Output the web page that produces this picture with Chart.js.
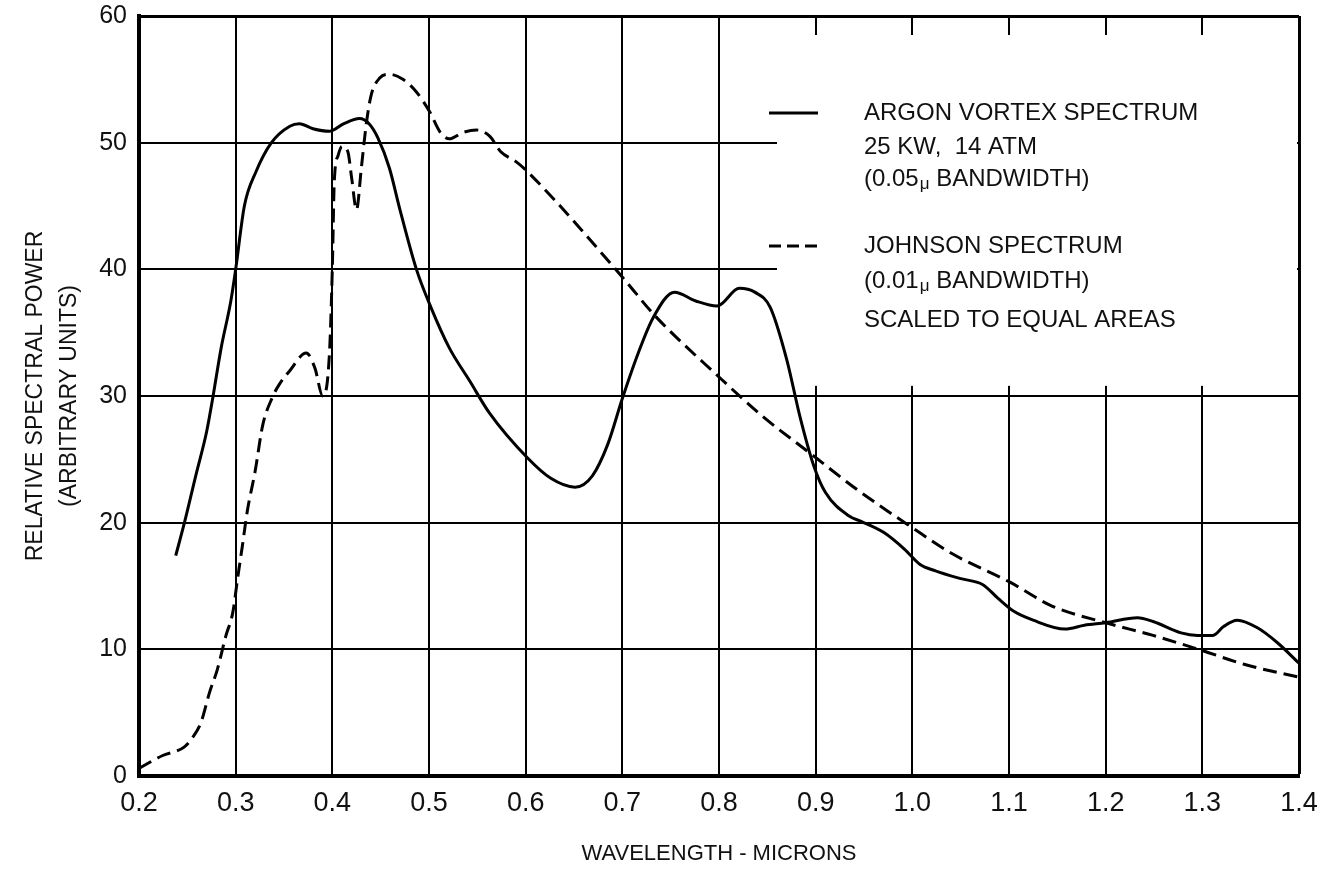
<!DOCTYPE html>
<html lang="en">
<head>
    <meta charset="UTF-8">
    <title>Argon Vortex vs Johnson Spectrum</title>
    <script src="https://cdn.jsdelivr.net/npm/chart.js@4/dist/chart.umd.min.js"></script>
    <style>
        html, body { margin: 0; padding: 0; background: #fff; }
        canvas { display: block; }
    </style>
</head>
<body>
    <canvas id="spectrumChart" width="1323" height="874"></canvas>
    <script>
        // Argon vortex spectrum (solid), 0.05 micron bandwidth
        const argonWl = [0.238, 0.247, 0.259, 0.270, 0.276, 0.285, 0.295, 0.300, 0.309, 0.321,
            0.337, 0.356, 0.366, 0.380, 0.397, 0.412, 0.428, 0.438, 0.447, 0.459,
            0.470, 0.487, 0.502, 0.521, 0.542, 0.563, 0.602, 0.626, 0.651,
            0.669, 0.685, 0.700, 0.716, 0.732, 0.754, 0.776, 0.798, 0.821, 0.837,
            0.853, 0.870, 0.884, 0.898, 0.910, 0.935, 0.947, 0.971, 0.992, 1.008,
            1.024, 1.049, 1.073, 1.089, 1.105, 1.125, 1.158, 1.178, 1.200, 1.233,
            1.249, 1.278, 1.295, 1.311, 1.322, 1.336, 1.357, 1.378, 1.400];
        const argonPower = [17.4, 20.0, 23.8, 27.2, 29.7, 33.8, 37.5, 40.0, 45.0, 47.7,
            50.0, 51.3, 51.5, 51.1, 50.9, 51.5, 51.9, 51.5, 50.4, 48.0,
            44.7, 40.0, 37.0, 33.8, 31.2, 28.6, 25.1, 23.5, 22.8,
            23.7, 26.2, 29.8, 33.3, 36.2, 38.2, 37.5, 37.1, 38.5, 38.2,
            37.0, 32.9, 28.3, 24.5, 22.4, 20.5, 20.1, 19.2, 17.9, 16.7,
            16.2, 15.6, 15.1, 14.0, 13.0, 12.3, 11.6, 11.9, 12.1, 12.5,
            12.2, 11.3, 11.1, 11.1, 11.8, 12.3, 11.7, 10.5, 8.9];

        // Johnson spectrum (dashed), 0.01 micron bandwidth
        const johnsonWl = [0.200, 0.224, 0.247, 0.255, 0.264, 0.273, 0.281, 0.290, 0.297, 0.302,
            0.307, 0.312, 0.320, 0.328, 0.338, 0.345, 0.356, 0.373, 0.382, 0.390,
            0.397, 0.400, 0.402, 0.406, 0.410, 0.416, 0.420, 0.425, 0.430, 0.435,
            0.440, 0.449, 0.459, 0.473, 0.487, 0.501, 0.511, 0.521, 0.535, 0.549,
            0.563, 0.574, 0.590, 0.602, 0.701, 0.733, 0.800, 0.845, 0.894, 0.943,
            1.000, 1.040, 1.101, 1.145, 1.200, 1.249, 1.300, 1.344, 1.400];
        const johnsonPower = [0.6, 1.6, 2.3, 3.0, 4.2, 6.6, 8.4, 11.1, 12.9, 15.6,
            18.2, 20.9, 24.0, 27.7, 29.9, 30.9, 32.0, 33.4, 32.2, 30.0,
            33.3, 40.1, 46.9, 49.0, 49.7, 49.3, 47.2, 44.7, 48.0, 51.4,
            53.7, 55.1, 55.4, 55.0, 54.0, 52.4, 50.9, 50.3, 50.8, 51.0,
            50.5, 49.3, 48.5, 47.7, 39.3, 36.4, 31.5, 28.4, 25.5, 22.6,
            19.6, 17.6, 15.3, 13.4, 12.1, 11.1, 9.9, 8.8, 7.8];

        const xMin = 0.2, xMax = 1.4, xStep = 0.1;
        const yMin = 0, yMax = 60, yStep = 10;

        const toPoints = (xs, ys) => xs.map((x, i) => ({ x: x, y: ys[i] }));

        const FONT = "'Liberation Sans', Arial, sans-serif";
        const INK = '#111';

        // blank panel in the upper right that holds the key
        const keyPanel = {
            id: 'keyPanel',
            beforeDatasetsDraw(chart) {
                const { ctx, chartArea, scales } = chart;
                const x0 = scales.x.getPixelForValue(0.86);
                const y0 = scales.y.getPixelForValue(58.5);
                const y1 = scales.y.getPixelForValue(30.8);
                ctx.save();
                ctx.fillStyle = '#fff';
                ctx.fillRect(x0, y0, chartArea.right - 2 - x0, y1 - y0);
                ctx.restore();
            },
            afterDraw(chart) {
                const ctx = chart.ctx;
                const sx0 = 769, sx1 = 818, tx = 864;
                ctx.save();
                ctx.strokeStyle = '#000';
                ctx.lineWidth = 3;

                // solid sample
                ctx.beginPath();
                ctx.moveTo(sx0, 113);
                ctx.lineTo(sx1, 113);
                ctx.stroke();

                // dashed sample
                ctx.setLineDash([12, 6]);
                ctx.beginPath();
                ctx.moveTo(sx0, 246);
                ctx.lineTo(sx1 + 2, 246);
                ctx.stroke();
                ctx.setLineDash([]);

                ctx.fillStyle = INK;
                ctx.textBaseline = 'middle';
                ctx.textAlign = 'left';
                ctx.font = '24px ' + FONT;
                ctx.fillText('ARGON VORTEX SPECTRUM', tx, 113);
                ctx.fillText('25 KW,  14 ATM', tx, 147);
                drawBandwidth(ctx, tx, 179, '0.05');
                ctx.fillText('JOHNSON SPECTRUM', tx, 246);
                drawBandwidth(ctx, tx, 281, '0.01');
                ctx.font = '24px ' + FONT;
                ctx.fillText('SCALED TO EQUAL AREAS', tx, 320);
                ctx.restore();
            }
        };

        // "(0.05μ BANDWIDTH)" with a small lowered mu
        function drawBandwidth(ctx, x, y, val) {
            ctx.font = '24px ' + FONT;
            const head = '(' + val;
            ctx.fillText(head, x, y);
            x += ctx.measureText(head).width + 1;
            ctx.font = '17px ' + FONT;
            ctx.fillText('\u03bc', x, y + 5);
            x += ctx.measureText('\u03bc').width;
            ctx.font = '24px ' + FONT;
            ctx.fillText(' BANDWIDTH)', x, y);
        }

        const ctx = document.getElementById('spectrumChart').getContext('2d');
        new Chart(ctx, {
            type: 'line',
            data: {
                datasets: [{
                    label: 'ARGON VORTEX SPECTRUM',
                    data: toPoints(argonWl, argonPower),
                    borderColor: '#000',
                    borderWidth: 3,
                    pointRadius: 0,
                    cubicInterpolationMode: 'monotone',
                    fill: false
                }, {
                    label: 'JOHNSON SPECTRUM',
                    data: toPoints(johnsonWl, johnsonPower),
                    borderColor: '#000',
                    borderWidth: 3,
                    borderDash: [14, 7],
                    pointRadius: 0,
                    cubicInterpolationMode: 'monotone',
                    fill: false
                }]
            },
            options: {
                responsive: false,
                animation: false,
                devicePixelRatio: 1,
                layout: { padding: { top: 16, right: 24, bottom: 0, left: 0 } },
                plugins: {
                    legend: { display: false },
                    tooltip: { enabled: false }
                },
                scales: {
                    x: {
                        type: 'linear',
                        min: xMin,
                        max: xMax,
                        afterFit: (s) => {
                            s.height = 98;
                            s.paddingLeft = 0;
                            s.paddingRight = 0;
                        },
                        ticks: {
                            stepSize: xStep,
                            color: INK,
                            padding: 11,
                            font: { family: FONT, size: 27 },
                            maxRotation: 0,
                            callback: (v) => Number(v).toFixed(1)
                        },
                        grid: {
                            color: '#000',
                            drawTicks: false,
                            lineWidth: (c) => (c.tick && Math.abs(c.tick.value - xMax) < 1e-6 ? 3 : 2)
                        },
                        border: { color: '#000', width: 4 },
                        title: {
                            display: true,
                            text: 'WAVELENGTH - MICRONS',
                            color: INK,
                            font: { family: FONT, size: 22 },
                            padding: { top: 0, bottom: 7 }
                        }
                    },
                    y: {
                        min: yMin,
                        max: yMax,
                        afterFit: (s) => {
                            s.width = 139;
                            s.paddingTop = 0;
                            s.paddingBottom = 0;
                        },
                        ticks: {
                            stepSize: yStep,
                            color: INK,
                            padding: 12,
                            font: { family: FONT, size: 25 }
                        },
                        grid: {
                            color: '#000',
                            drawTicks: false,
                            lineWidth: (c) => (c.tick && c.tick.value === yMax ? 3 : 2)
                        },
                        border: { color: '#000', width: 4 },
                        title: {
                            display: true,
                            text: ['RELATIVE SPECTRAL POWER', '(ARBITRARY UNITS)'],
                            color: INK,
                            font: { family: FONT, size: 23, lineHeight: 1.48 },
                            padding: { top: 19, bottom: 0 }
                        }
                    }
                }
            },
            plugins: [keyPanel]
        });
    </script>
</body>
</html>
